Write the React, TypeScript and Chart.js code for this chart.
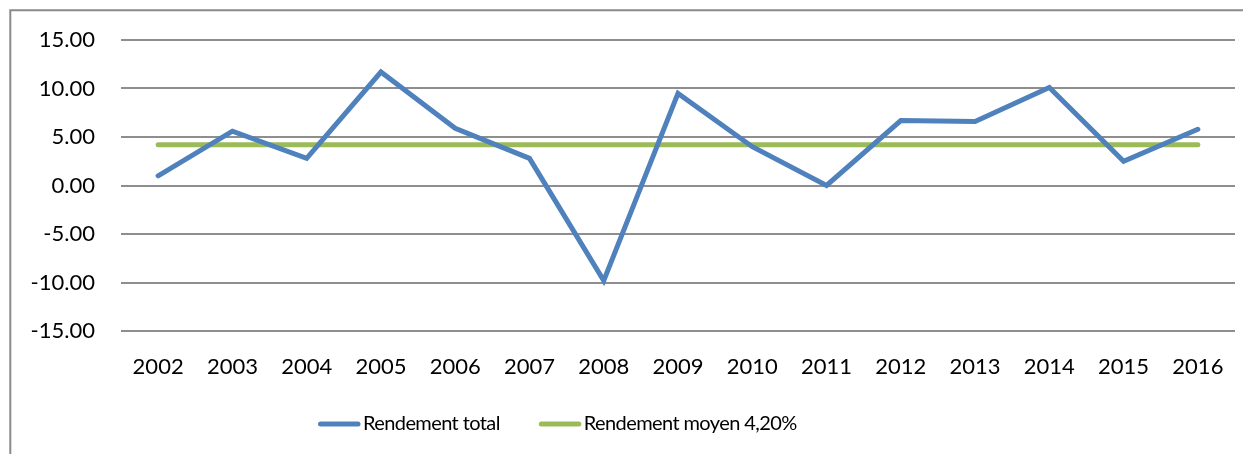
import React, { useEffect, useRef } from "react";
import { Chart, registerables } from "chart.js";

Chart.register(...registerables);

const years = ["2002", "2003", "2004", "2005", "2006", "2007", "2008", "2009", "2010", "2011", "2012", "2013", "2014", "2015", "2016"];
const rendementTotal = [1.0, 5.6, 2.8, 11.7, 5.9, 2.8, -9.8, 9.5, 4.0, 0.0, 6.7, 6.6, 10.1, 2.5, 5.8];
const rendementMoyen = [4.2, 4.2, 4.2, 4.2, 4.2, 4.2, 4.2, 4.2, 4.2, 4.2, 4.2, 4.2, 4.2, 4.2, 4.2];
const seriesLabels = ["Rendement total", "Rendement moyen 4,20%"];
const seriesColors = ["#4F81BD", "#9BBB59"];
const yMin = -15;
const yMax = 15;
const yStep = 5;

const FONT = "Lato, 'Noto Sans', sans-serif";

const framePlugin = {
  id: "frame",
  beforeDraw(chart: any) {
    const ctx = chart.ctx;
    ctx.save();
    ctx.strokeStyle = "#8a8a8a";
    ctx.lineWidth = 2;
    ctx.beginPath();
    ctx.moveTo(2.3, chart.height);
    ctx.lineTo(2.3, 2.3);
    ctx.lineTo(chart.width, 2.3);
    ctx.stroke();
    ctx.restore();
  },
};

const legendPlugin = {
  id: "customLegend",
  afterDraw(chart: any) {
    const ctx = chart.ctx;
    ctx.save();
    ctx.font = `20px ${FONT}`;
    try {
      (ctx as any).letterSpacing = "-0.6px";
    } catch (e) {}
    ctx.textBaseline = "middle";
    ctx.textAlign = "left";
    const y = 416;
    let x = 310;
    chart.data.datasets.forEach((ds: any) => {
      ctx.strokeStyle = ds.borderColor;
      ctx.lineWidth = 5;
      ctx.lineCap = "round";
      ctx.beginPath();
      ctx.moveTo(x + 2.5, y);
      ctx.lineTo(x + 40, y);
      ctx.stroke();
      ctx.fillStyle = "#000";
      ctx.fillText(ds.label, x + 45, y);
      x += 45 + ctx.measureText(ds.label).width + 39;
    });
    ctx.restore();
  },
};

export default function App() {
  const ref = useRef<HTMLCanvasElement | null>(null);
  useEffect(() => {
    if (!ref.current) return;
    const chart = new Chart(ref.current, {
      type: "line",
      data: {
        labels: years,
        datasets: [
          {
            label: seriesLabels[0],
            data: rendementTotal,
            borderColor: seriesColors[0],
            backgroundColor: seriesColors[0],
            borderWidth: 5,
            pointRadius: 0,
            tension: 0,
            borderJoinStyle: "miter",
            borderCapStyle: "round",
          },
          {
            label: seriesLabels[1],
            data: rendementMoyen,
            borderColor: seriesColors[1],
            backgroundColor: seriesColors[1],
            borderWidth: 5,
            pointRadius: 0,
            tension: 0,
            borderCapStyle: "round",
          },
        ],
      },
      options: {
        responsive: false,
        animation: false,
        layout: { padding: { top: 32, right: 16, bottom: 63, left: 0 } },
        plugins: {
          legend: { display: false },
          tooltip: { enabled: false },
        },
        scales: {
          x: {
            offset: true,
            grid: { display: false, drawTicks: false },
            border: { display: false },
            ticks: { color: "#000", font: { family: FONT, size: 22 }, padding: 23, maxRotation: 0, autoSkip: false },
            afterFit: (s: any) => {
              s.height = 60;
            },
          },
          y: {
            min: yMin,
            max: yMax,
            grid: { color: "#8e8e8e", lineWidth: 2, drawTicks: false },
            border: { display: false },
            ticks: {
              stepSize: yStep,
              color: "#000",
              font: { family: FONT, size: 22 },
              padding: 26,
              callback: (v: any) => Number(v).toFixed(2),
            },
            afterFit: (s: any) => {
              s.width = 113;
              s.paddingTop = 0;
              s.paddingBottom = 0;
            },
          },
        },
      },
      plugins: [framePlugin, legendPlugin],
    });
    return () => chart.destroy();
  }, []);
  return (
    <div style={{ width: 1243, height: 446 }}>
      <canvas ref={ref} width={1243} height={446} style={{ display: "block" }} />
    </div>
  );
}
